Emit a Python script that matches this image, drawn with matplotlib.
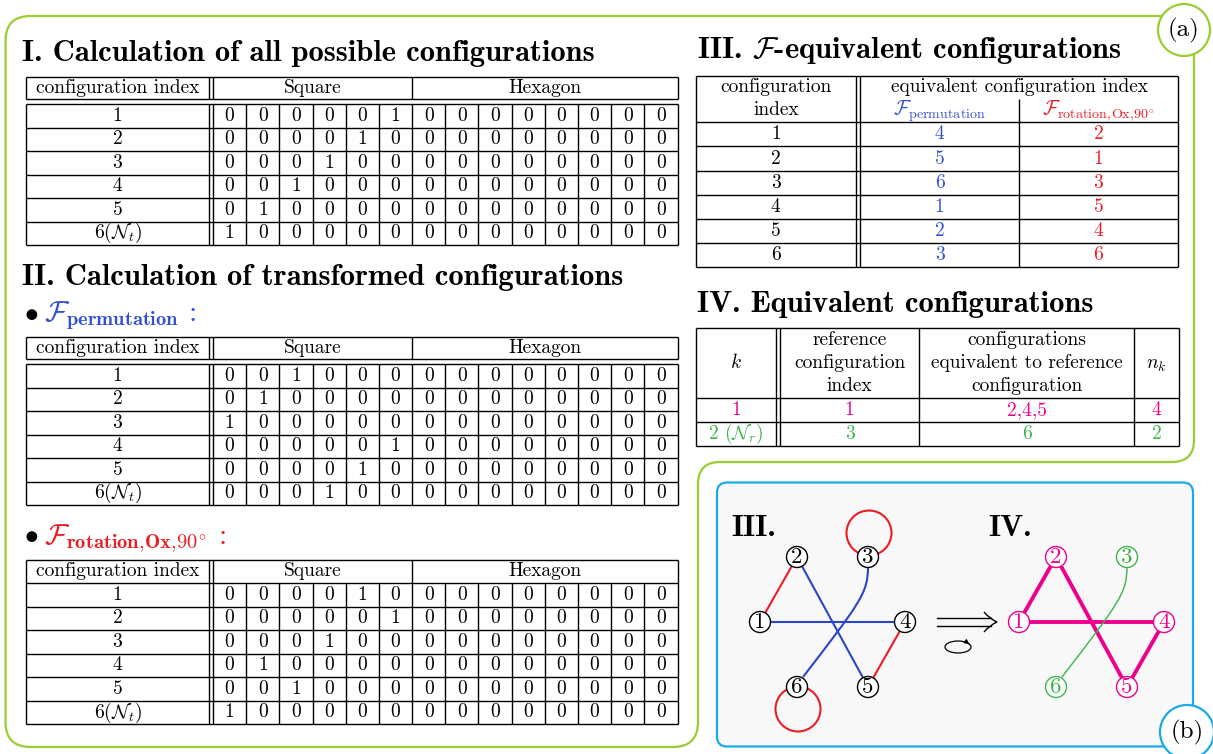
import matplotlib.pyplot as plt
from matplotlib.patches import Circle, FancyBboxPatch, PathPatch, Ellipse
from matplotlib.path import Path

plt.rcParams['mathtext.fontset'] = 'cm'
plt.rcParams['font.family'] = 'cmr10'
plt.rcParams['axes.unicode_minus'] = False

RM = 'cmr10'
BF = 'cmb10'
BLUE = '#3250d4'
RED = '#ec1c24'
MAGENTA = '#ec008c'
GREEN = '#3db54a'
OLIVE = '#9acd32'
SKY = '#1ba9e8'

# ---- data ----
row_labels = ['1', '2', '3', '4', '5', r'$6(\mathcal{N}_t)$']
square_all = [[0, 0, 0, 0, 0, 1],
              [0, 0, 0, 0, 1, 0],
              [0, 0, 0, 1, 0, 0],
              [0, 0, 1, 0, 0, 0],
              [0, 1, 0, 0, 0, 0],
              [1, 0, 0, 0, 0, 0]]
square_perm = [[0, 0, 1, 0, 0, 0],
               [0, 1, 0, 0, 0, 0],
               [1, 0, 0, 0, 0, 0],
               [0, 0, 0, 0, 0, 1],
               [0, 0, 0, 0, 1, 0],
               [0, 0, 0, 1, 0, 0]]
square_rot = [[0, 0, 0, 0, 1, 0],
              [0, 0, 0, 0, 0, 1],
              [0, 0, 0, 1, 0, 0],
              [0, 1, 0, 0, 0, 0],
              [0, 0, 1, 0, 0, 0],
              [1, 0, 0, 0, 0, 0]]
hexagon = [[0, 0, 0, 0, 0, 0, 0, 0],
           [0, 0, 0, 0, 0, 0, 0, 0],
           [0, 0, 0, 0, 0, 0, 0, 0],
           [0, 0, 0, 0, 0, 0, 0, 0],
           [0, 0, 0, 0, 0, 0, 0, 0],
           [0, 0, 0, 0, 0, 0, 0, 0]]

eq_index = ['1', '2', '3', '4', '5', '6']
eq_perm = ['4', '5', '6', '1', '2', '3']
eq_rot = ['2', '1', '3', '5', '4', '6']

ref_k = ['1', r'2 $(\mathcal{N}_r)$']
ref_index = ['1', '3']
ref_equiv = ['2,4,5', '6']
ref_nk = ['4', '2']
ref_colors = [MAGENTA, GREEN]

# graph (b): node layout and edges
node_xy = {1: (760, 622), 2: (797, 557), 3: (868, 557),
           4: (905, 622), 5: (868, 687), 6: (797, 687)}
graph_shift = 259
edges_red = [(1, 2), (4, 5)]
edges_blue = [(1, 4), (2, 5)]
loops_red = [3, 6]
edges_pink = [(1, 2), (2, 5), (1, 4), (4, 5)]
pink_nodes = [1, 2, 4, 5]
green_nodes = [3, 6]

fig = plt.figure(figsize=(12.13, 7.54), dpi=100)
ax = fig.add_axes([0, 0, 1, 1])
ax.set_xlim(0, 1213)
ax.set_ylim(754, 0)
ax.axis('off')

LW = 1.0
FS = 14


def hl(x1, x2, y):
    ax.plot([x1, x2], [y, y], color='black', lw=LW, solid_capstyle='butt')


def vl(x, y1, y2):
    ax.plot([x, x], [y1, y2], color='black', lw=LW, solid_capstyle='butt')


def txt(x, y, s, size=FS, color='black', font=RM, ha='center', va='center', z=3):
    ax.text(x, y, s, fontsize=size, color=color, family=font, ha=ha, va=va, zorder=z)


# ---- configuration tables (left) ----
X0, XD1, XD2, XDIV, XR = 26, 209, 213, 412, 677.5
CW = (XR - XD2) / 14


def config_table(y_top, y_head, y_body, y_bot, square, hexa):
    # header
    hl(X0, XR, y_top)
    hl(X0, XR, y_head)
    for x in (X0, XD1, XD2, XDIV, XR):
        vl(x, y_top, y_head)
    ym = (y_top + y_head) / 2
    txt((X0 + XD1) / 2, ym, 'configuration index')
    txt((XD2 + XDIV) / 2, ym, 'Square')
    txt((XDIV + XR) / 2, ym, 'Hexagon')
    # body
    rh = (y_bot - y_body) / len(square)
    if y_body != y_head:
        hl(X0, XR, y_body)
    for i in range(len(square)):
        hl(X0, XR, y_body + (i + 1) * rh)
    for x in (X0, XD1, XD2):
        vl(x, y_body, y_bot)
    for j in range(1, 15):
        vl(XD2 + j * CW, y_body, y_bot)
    for i, lab in enumerate(row_labels):
        yc = y_body + (i + 0.5) * rh
        txt((X0 + XD1) / 2, yc, lab)
        vals = square[i] + hexa[i]
        for j, v in enumerate(vals):
            txt(XD2 + (j + 0.5) * CW, yc, str(v))


TS = 22
txt(22, 61, 'I. Calculation of all possible configurations', size=TS, font=BF, ha='left', va='baseline')
config_table(76.5, 99, 104.3, 245, square_all, hexagon)

txt(22, 285, 'II. Calculation of transformed configurations', size=TS, font=BF, ha='left', va='baseline')
txt(31, 313, r'$\bullet$', size=20)
txt(44, 321, r'$\mathcal{F}_{\mathbf{permutation}}$ :', size=21, color=BLUE, ha='left', va='baseline')
config_table(336.7, 359.3, 364.3, 505, square_perm, hexagon)

txt(31, 535, r'$\bullet$', size=20)
txt(44, 544, r'$\mathcal{F}_{\mathbf{rotation,\!Ox},\!90^{\circ}}$ :', size=21, color=RED, ha='left', va='baseline')
config_table(560, 583, 583, 724.3, square_rot, hexagon)

# ---- III. F-equivalent table ----
txt(697, 58, r'III. $\mathcal{F}$-equivalent configurations', size=TS, font=BF, ha='left', va='baseline')
A0, AD1, AD2, AMID, AR = 696, 855.7, 860.3, 1019, 1178
at, ah, ab = 75.7, 122.3, 267.3
hl(A0, AR, at)
hl(A0, AR, ah)
for x in (A0, AD1, AD2, AR):
    vl(x, at, ab)
vl(AMID, 99, ab)
txt((A0 + AD1) / 2, 87, 'configuration')
txt((A0 + AD1) / 2, 110, 'index')
txt((AD2 + AR) / 2, 87, 'equivalent configuration index')
txt((AD2 + AMID) / 2, 111, r'$\mathcal{F}_{\mathrm{permutation}}$', size=14.5, color=BLUE)
txt((AMID + AR) / 2, 111, r'$\mathcal{F}_{\mathrm{rotation,\!Ox,\!}90^{\circ}}$', size=14.5, color=RED)
arh = (ab - ah) / len(eq_index)
for i in range(len(eq_index)):
    hl(A0, AR, ah + (i + 1) * arh)
    yc = ah + (i + 0.5) * arh
    txt((A0 + AD1) / 2, yc, eq_index[i])
    txt((AD2 + AMID) / 2, yc, eq_perm[i], color=BLUE)
    txt((AMID + AR) / 2, yc, eq_rot[i], color=RED)

# ---- IV. Equivalent configurations table ----
txt(697, 312, 'IV. Equivalent configurations', size=TS, font=BF, ha='left', va='baseline')
B0, BD1, BD2, BC2, BC3, BR = 696, 776, 780, 919.3, 1134, 1179
bt, bh, bb = 328.3, 398.3, 446
hl(B0, BR, bt)
hl(B0, BR, bh)
for x in (B0, BD1, BD2, BC2, BC3, BR):
    vl(x, bt, bb)
cx = [(B0 + BD1) / 2, (BD2 + BC2) / 2, (BC2 + BC3) / 2, (BC3 + BR) / 2]
txt(cx[0], 363, r'$k$')
txt(cx[1], 340, 'reference')
txt(cx[1], 363, 'configuration')
txt(cx[1], 386, 'index')
txt(cx[2], 340, 'configurations')
txt(cx[2], 363, 'equivalent to reference')
txt(cx[2], 386, 'configuration')
txt(cx[3], 365, r'$n_k$')
brh = (bb - bh) / len(ref_k)
for i in range(len(ref_k)):
    hl(B0, BR, bh + (i + 1) * brh)
    yc = bh + (i + 0.5) * brh
    c = ref_colors[i]
    txt(cx[0], yc, ref_k[i], color=c)
    txt(cx[1], yc, ref_index[i], color=c)
    txt(cx[2], yc, ref_equiv[i], color=c)
    txt(cx[3], yc, ref_nk[i], color=c)

# ---- panel (a) outline ----
L, T, R, B1, XM, B2 = 5.5, 16, 1194, 462, 698, 747
r1, r2 = 25, 22
verts = [(L, T + r1), (L, T), (L + r1, T), (R - r1, T), (R, T), (R, T + r1),
         (R, B1 - r2), (R, B1), (R - r2, B1), (XM + r2, B1), (XM, B1), (XM, B1 + r2),
         (XM, B2 - r1), (XM, B2), (XM - r1, B2), (L + r1, B2), (L, B2), (L, B2 - r1),
         (L, T + r1)]
codes = [Path.MOVETO, Path.CURVE3, Path.CURVE3, Path.LINETO, Path.CURVE3, Path.CURVE3,
         Path.LINETO, Path.CURVE3, Path.CURVE3, Path.LINETO, Path.CURVE3, Path.CURVE3,
         Path.LINETO, Path.CURVE3, Path.CURVE3, Path.LINETO, Path.CURVE3, Path.CURVE3,
         Path.CLOSEPOLY]
ax.add_patch(PathPatch(Path(verts, codes), fill=False, ec=OLIVE, lw=1.6, zorder=0.5))
ax.add_patch(Circle((1184, 30), 26, fc='white', ec=OLIVE, lw=1.6, zorder=5))
txt(1184, 30, '(a)', size=18, z=6)

# ---- panel (b) ----
ax.add_patch(FancyBboxPatch((717, 482.5), 476, 264, boxstyle='round,pad=0,rounding_size=10',
                            fc='#f8f8f8', ec=SKY, lw=1.6, zorder=0.5))
ax.add_patch(Circle((1187, 732), 27, fc='white', ec=SKY, lw=1.6, zorder=5))
txt(1187, 732, '(b)', size=18, z=6)

txt(731, 536, 'III.', size=TS, font=BF, ha='left', va='baseline')
txt(988, 536, 'IV.', size=TS, font=BF, ha='left', va='baseline')


def node(n, dx, color):
    x, y = node_xy[n]
    ax.add_patch(Circle((x + dx, y), 10.5, fc='white', ec=color, lw=1.0, zorder=3))
    ax.text(x + dx, y, str(n), fontsize=16.5, color=color, family=RM, ha='center', va='center', zorder=4)


def edge(a, b, dx, color, lw):
    (x1, y1), (x2, y2) = node_xy[a], node_xy[b]
    ax.plot([x1 + dx, x2 + dx], [y1, y2], color=color, lw=lw, zorder=2, solid_capstyle='butt')


def curved(a, b, dx, color, lw):
    (x1, y1), (x2, y2) = node_xy[a], node_xy[b]
    pts = [(x1 + dx, y1 + 10), (x1 + dx, y1 + 36), (x1 + dx - 8, y1 + 46), (x2 + dx + 6, y2 - 10)]
    ax.add_patch(PathPatch(Path(pts, [Path.MOVETO, Path.CURVE4, Path.CURVE4, Path.CURVE4]),
                           fill=False, ec=color, lw=lw, zorder=2))


for a, b in edges_red:
    edge(a, b, 0, RED, 1.5)
for a, b in edges_blue:
    edge(a, b, 0, '#2a46c8', 1.5)
curved(3, 6, 0, '#2a46c8', 1.5)
for n in loops_red:
    x, y = node_xy[n]
    off = -24 if n == 3 else 22
    ax.add_patch(Circle((x + 1, y + off), 22.5, fill=False, ec=RED, lw=1.5, zorder=1))
for n in node_xy:
    node(n, 0, 'black')

for a, b in edges_pink:
    edge(a, b, graph_shift, MAGENTA, 2.8)
curved(3, 6, graph_shift, GREEN, 1.0)
for n in pink_nodes:
    node(n, graph_shift, MAGENTA)
for n in green_nodes:
    node(n, graph_shift, GREEN)

# double arrow and rotation symbol
ax.plot([937, 991], [617.5, 617.5], color='black', lw=1.0)
ax.plot([937, 991], [626, 626], color='black', lw=1.0)
ax.add_patch(PathPatch(Path([(984, 612), (990, 619), (997, 622), (990, 625), (984, 632)],
                            [Path.MOVETO, Path.CURVE3, Path.CURVE3, Path.CURVE3, Path.CURVE3]),
                       fill=False, ec='black', lw=1.0))
ax.add_patch(Ellipse((958, 647), 26, 12, fill=False, ec='black', lw=0.9))
ax.annotate('', xy=(971.5, 646), xytext=(967, 642.5),
            arrowprops=dict(arrowstyle='-|>', lw=0.8, color='black', mutation_scale=7))

fig.savefig('out.png', dpi=100)
